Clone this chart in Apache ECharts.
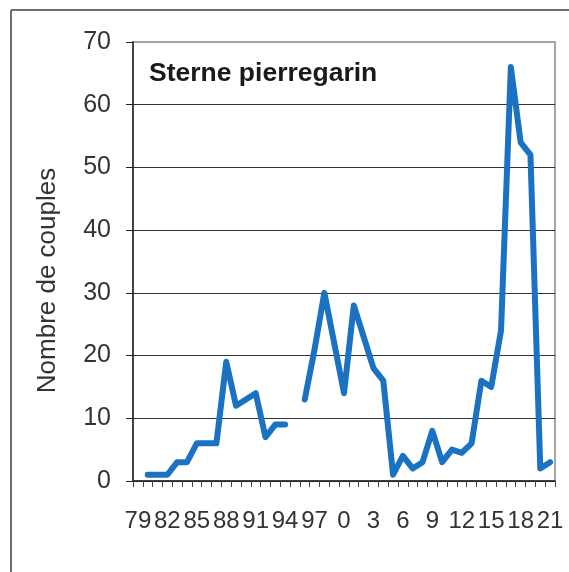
<!DOCTYPE html>
<html>
<head>
<meta charset="utf-8">
<script src="https://cdn.jsdelivr.net/npm/echarts@6/dist/echarts.min.js"></script>
<style>
html,body{margin:0;padding:0;background:#fff;}
#c{width:569px;height:572px;}
</style>
</head>
<body>
<div id="c"></div>
<script>
var years = [1979,1980,1981,1982,1983,1984,1985,1986,1987,1988,1989,1990,1991,1992,1993,1994,1995,1996,1997,1998,1999,2000,2001,2002,2003,2004,2005,2006,2007,2008,2009,2010,2011,2012,2013,2014,2015,2016,2017,2018,2019,2020,2021];
var couples = [null,1,1,1,3,3,6,6,6,19,12,13,14,7,9,9,null,13,21,30,22,14,28,23,18,16,1,4,2,3,8,3,5,4.5,6,16,15,24,66,54,52,2,3];
var yTicks = [0,10,20,30,40,50,60,70];
var titleText = 'Sterne pierregarin';
var yName = 'Nombre de couples';

var chart = echarts.init(document.getElementById('c'));
chart.setOption({
  animation: false,
  backgroundColor: '#fff',
  grid: {left: 133, right: 14, top: 42, bottom: 91, show: true, borderColor: '#a6a6a6', borderWidth: 2},
  graphic: [
    {type: 'line', shape: {x1: 11, y1: 10, x2: 569, y2: 10}, style: {stroke: '#6e6e6e', lineWidth: 2}},
    {type: 'line', shape: {x1: 11, y1: 10, x2: 11, y2: 572}, style: {stroke: '#6e6e6e', lineWidth: 2}},
    {type: 'text', left: 149, top: 60, style: {text: titleText, font: 'bold 26.5px "Liberation Sans", Arial, sans-serif', fill: '#1a1a1a'}}
  ],
  xAxis: {
    type: 'category',
    data: years,
    boundaryGap: true,
    axisLine: {lineStyle: {color: '#222', width: 1.5}},
    axisTick: {show: true, interval: 0, length: 6, inside: false, lineStyle: {color: '#444'}},
    axisLabel: {
      interval: 2,
      margin: 28,
      fontSize: 24,
      fontFamily: '"Liberation Sans", Arial, sans-serif',
      color: '#333',
      formatter: function (v) { return String(Number(v) % 100); }
    },
    splitLine: {show: false}
  },
  yAxis: {
    type: 'value',
    min: yTicks[0],
    max: yTicks[yTicks.length - 1],
    interval: 10,
    name: yName,
    nameLocation: 'middle',
    nameGap: 72,
    nameRotate: 90,
    nameTextStyle: {fontSize: 26, fontFamily: '"Liberation Sans", Arial, sans-serif', color: '#333', padding: [0, 38, 0, 0]},
    axisLine: {show: true, lineStyle: {color: '#222', width: 1.5}},
    axisTick: {show: true, length: 7, inside: false, lineStyle: {color: '#222'}},
    axisLabel: {margin: 22, fontSize: 25, fontFamily: '"Liberation Sans", Arial, sans-serif', color: '#333'},
    splitLine: {show: true, showMaxLine: false, lineStyle: {color: '#333', width: 1}}
  },
  series: [{
    type: 'line',
    data: couples,
    connectNulls: false,
    showSymbol: false,
    symbol: 'none',
    lineStyle: {color: '#1b72c2', width: 6, cap: 'round', join: 'round'},
    itemStyle: {color: '#1b72c2'}
  }]
});
</script>
</body>
</html>
